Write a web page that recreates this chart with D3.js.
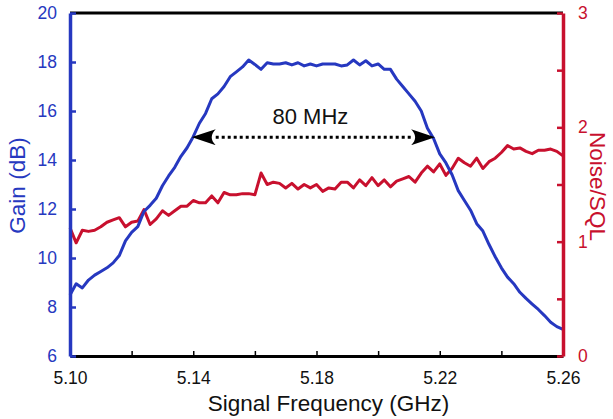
<!DOCTYPE html>
<html><head><meta charset="utf-8">
<script src="https://cdn.jsdelivr.net/npm/d3@7/dist/d3.min.js"></script>
<style>
html,body{margin:0;padding:0;background:#fff;}
svg{display:block;font-family:"Liberation Sans",Arial,sans-serif;}
</style></head>
<body><svg id="chart" width="613" height="419"></svg>
<script>
const freq = [5.100,5.102,5.104,5.106,5.108,5.110,5.112,5.114,5.116,5.118,
5.120,5.122,5.124,5.126,5.128,5.130,5.132,5.134,5.136,5.138,
5.140,5.142,5.144,5.146,5.148,5.150,5.152,5.154,5.156,5.158,
5.160,5.162,5.164,5.166,5.168,5.170,5.172,5.174,5.176,5.178,
5.180,5.182,5.184,5.186,5.188,5.190,5.192,5.194,5.196,5.198,
5.200,5.202,5.204,5.206,5.208,5.210,5.212,5.214,5.216,5.218,
5.220,5.222,5.224,5.226,5.228,5.230,5.232,5.234,5.236,5.238,
5.240,5.242,5.244,5.246,5.248,5.250,5.252,5.254,5.256,5.258,5.260];

const gain = [8.49,8.95,8.78,9.10,9.30,9.45,9.60,9.80,10.10,10.70,
11.05,11.28,11.90,12.15,12.44,12.95,13.35,13.70,14.15,14.50,
14.95,15.50,15.90,16.50,16.70,17.00,17.40,17.60,17.80,18.08,
17.90,17.70,17.97,17.92,17.92,17.97,17.88,17.97,17.84,17.92,
17.84,17.92,17.92,17.92,17.84,17.88,18.08,17.88,18.05,17.84,
17.92,17.70,17.70,17.30,17.00,16.70,16.40,16.00,15.30,14.88,
14.25,13.88,13.40,12.75,12.35,11.95,11.40,11.10,10.55,10.05,
9.60,9.22,8.95,8.60,8.35,8.12,7.90,7.65,7.38,7.20,7.09];

const noise = [1.12,0.99,1.10,1.09,1.10,1.13,1.17,1.19,1.21,1.13,
1.17,1.18,1.28,1.15,1.20,1.27,1.23,1.27,1.31,1.31,
1.36,1.34,1.34,1.40,1.34,1.43,1.41,1.41,1.42,1.42,
1.41,1.60,1.50,1.52,1.51,1.47,1.51,1.46,1.50,1.47,
1.50,1.44,1.47,1.46,1.52,1.52,1.47,1.54,1.49,1.56,
1.49,1.54,1.48,1.53,1.55,1.57,1.52,1.60,1.66,1.61,
1.68,1.58,1.64,1.73,1.69,1.66,1.73,1.64,1.70,1.73,
1.78,1.84,1.81,1.82,1.79,1.77,1.80,1.80,1.81,1.79,1.75];

const xTicks = [5.10,5.12,5.14,5.16,5.18,5.20,5.22,5.24,5.26];
const xTickLabels = ["5.10","","5.14","","5.18","","5.22","","5.26"];
const gainTicks = [6,8,10,12,14,16,18,20];
const noiseTicks = [0,0.5,1,1.5,2,2.5,3];
const noiseTickLabels = ["0","","1","","2","","3"];
const bandwidth = {from:5.1395, to:5.2185, gain:14.93, label:"80 MHz"};

const blue = "#2638c0", red = "#c8102e";
const L = 70, R = 563, T = 13, B = 356;
const svg = d3.select("#chart");
const x = d3.scaleLinear().domain([5.10,5.26]).range([L,R]);
const yL = d3.scaleLinear().domain([6,20]).range([B,T]);
const yR = d3.scaleLinear().domain([0,3]).range([B,T]);

const defs = svg.append("defs");
defs.append("marker").attr("id","ah").attr("viewBox","0 0 24 16")
  .attr("refX",0).attr("refY",8).attr("markerWidth",24).attr("markerHeight",16)
  .attr("markerUnits","userSpaceOnUse").attr("orient","auto-start-reverse")
  .append("path").attr("d","M24,8 L0,0 Q8,8 0,16 Z").attr("fill","#000");

svg.append("line").attr("x1",L).attr("x2",R).attr("y1",T).attr("y2",T)
  .attr("stroke","#000").attr("stroke-width",3);

const xAxis = d3.axisBottom(x).tickValues(xTicks).tickSizeInner(-5).tickSizeOuter(0)
  .tickFormat((d,i)=>xTickLabels[i]);
const gx = svg.append("g").attr("transform",`translate(0,${B})`).call(xAxis);
gx.select(".domain").attr("stroke","#000").attr("stroke-width",3);
gx.selectAll(".tick line").attr("stroke","#000").attr("stroke-width",1.5);
gx.selectAll(".tick text").attr("font-size",17.5).attr("fill","#111").attr("dy",0).attr("y",28);

svg.append("path").datum(noise.map((v,i)=>[freq[i],v]))
  .attr("fill","none").attr("stroke",red).attr("stroke-width",3).attr("stroke-linejoin","round")
  .attr("d",d3.line().x(d=>x(d[0])).y(d=>yR(d[1])));
svg.append("path").datum(gain.map((v,i)=>[freq[i],v]))
  .attr("fill","none").attr("stroke",blue).attr("stroke-width",3).attr("stroke-linejoin","round")
  .attr("d",d3.line().x(d=>x(d[0])).y(d=>yL(d[1])));

const gl = svg.append("g").attr("transform",`translate(${L},0)`)
  .call(d3.axisLeft(yL).tickValues(gainTicks).tickSizeInner(-6).tickSizeOuter(0).tickPadding(13));
gl.select(".domain").attr("stroke",blue).attr("stroke-width",3.5);
gl.selectAll(".tick line").attr("stroke",blue).attr("stroke-width",2.5);
gl.selectAll(".tick text").attr("font-size",17.5).attr("fill",blue);

const gr = svg.append("g").attr("transform",`translate(${R},0)`)
  .call(d3.axisRight(yR).tickValues(noiseTicks).tickSizeInner(-6).tickSizeOuter(0).tickPadding(15)
    .tickFormat((d,i)=>noiseTickLabels[i]));
gr.select(".domain").attr("stroke",red).attr("stroke-width",3.5);
gr.selectAll(".tick line").attr("stroke",red).attr("stroke-width",2.5);
gr.selectAll(".tick text").attr("font-size",17.5).attr("fill",red);

svg.append("line")
  .attr("x1",x(bandwidth.from)+24).attr("x2",x(bandwidth.to)-24)
  .attr("y1",yL(bandwidth.gain)).attr("y2",yL(bandwidth.gain))
  .attr("stroke","#000").attr("stroke-width",3).attr("stroke-dasharray","3,3")
  .attr("marker-start","url(#ah)").attr("marker-end","url(#ah)");
svg.append("text").attr("x",x((bandwidth.from+bandwidth.to)/2)-3).attr("y",yL(bandwidth.gain)-13)
  .attr("text-anchor","middle").attr("font-size",22).attr("fill","#111").text(bandwidth.label);

svg.append("text").attr("x",(L+R)/2+12).attr("y",411).attr("text-anchor","middle")
  .attr("font-size",22.5).attr("fill","#111").text("Signal Frequency (GHz)");
svg.append("text").attr("transform",`translate(25,${(T+B)/2+1}) rotate(-90)`).attr("text-anchor","middle")
  .attr("font-size",22.5).attr("fill",blue).text("Gain (dB)");
svg.append("text").attr("transform",`translate(590,${(T+B)/2+2}) rotate(90)`).attr("text-anchor","middle")
  .attr("font-size",22.5).attr("fill",red).text("Noise/SQL");
</script></body></html>
